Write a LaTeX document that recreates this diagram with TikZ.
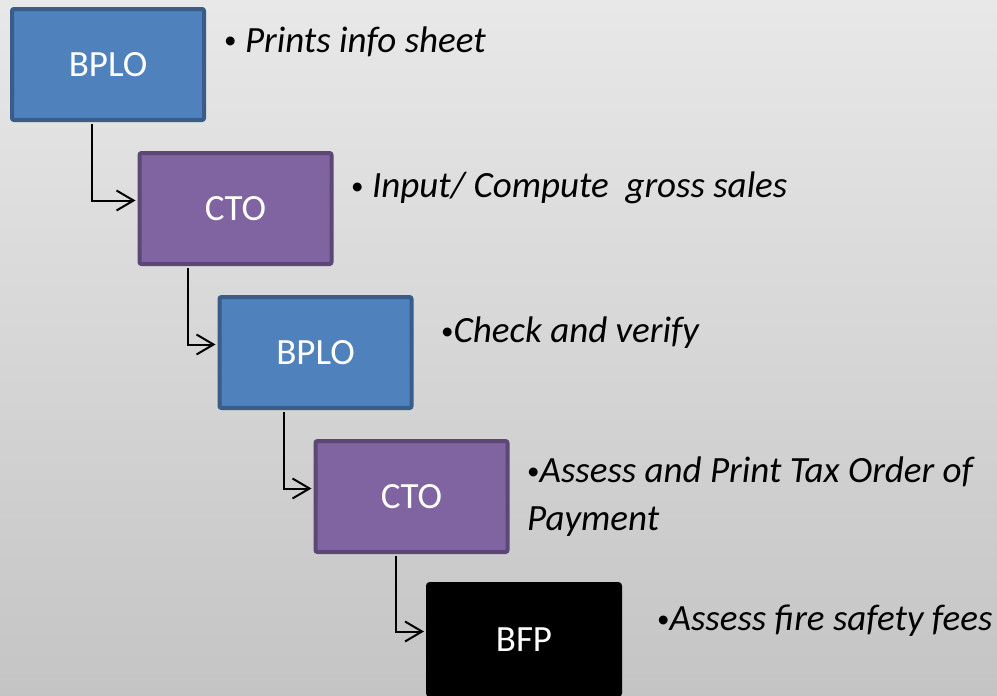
\documentclass[tikz,border=0pt]{standalone}
\usepackage{fontspec}
\setmainfont{Carlito}
\usetikzlibrary{arrows.meta,positioning}
\definecolor{bploblue}{HTML}{4F81BD}
\definecolor{bploline}{HTML}{385D8A}
\definecolor{ctopurple}{HTML}{8064A2}
\definecolor{ctoline}{HTML}{5C4776}
\newcommand{\dotmark}{{\upshape\fontsize{25}{25}\selectfont\raisebox{3pt}{\textbullet}}}

\begin{document}
\begin{tikzpicture}[x=1pt,y=-1pt,
  box/.style={draw, line width=4pt, rounded corners=2pt, minimum width=192pt, minimum height=111pt, text=white, font=\fontsize{37}{44}\selectfont},
  bplo/.style={box, fill=bploblue, draw=bploline},
  cto/.style={box, fill=ctopurple, draw=ctoline},
  bfp/.style={box, fill=black, draw=black},
  note/.style={anchor=base west, inner sep=0pt, align=left, font=\fontsize{37}{48}\selectfont\itshape},
  flow/.style={line width=2pt, -{Straight Barb[length=17pt,width=20pt]}, shorten <=2pt, shorten >=2pt}]
  \useasboundingbox (0,0) rectangle (997,696);
  \shade[top color=black!9, bottom color=black!23] (0,0) rectangle (997,696);

  \node[bplo] (b1) at (108,64.5) {BPLO};
  \node[cto]  (b2) at (235.5,208.5) {CTO};
  \node[bplo] (b3) at (315.5,352.5) {BPLO};
  \node[cto]  (b4) at (411.5,496.5) {CTO};
  \node[bfp]  (b5) at (524,639.5) {BFP};

  \node[note] (n1) at (224,52) {\dotmark\ Prints info sheet};
  \node[note] (n2) at (351,197) {\dotmark\ Input/ Compute\ \ gross sales};
  \node[note] (n3) at (441,342) {\dotmark Check and verify};
  \node[note] (n4) at (527,530) {\dotmark Assess and Print Tax Order of\\Payment};
  \node[note] (n5) at (657,630) {\dotmark Assess fire safety fees};

  \draw[flow] ([xshift=-16pt]b1.south) |- ([yshift=8pt]b2.west);
  \draw[flow] ([xshift=-47.5pt]b2.south) |- ([yshift=8pt]b3.west);
  \draw[flow] ([xshift=-31.5pt]b3.south) |- ([yshift=8pt]b4.west);
  \draw[flow] ([xshift=-15.5pt]b4.south) |- ([yshift=8pt]b5.west);
\end{tikzpicture}
\end{document}
